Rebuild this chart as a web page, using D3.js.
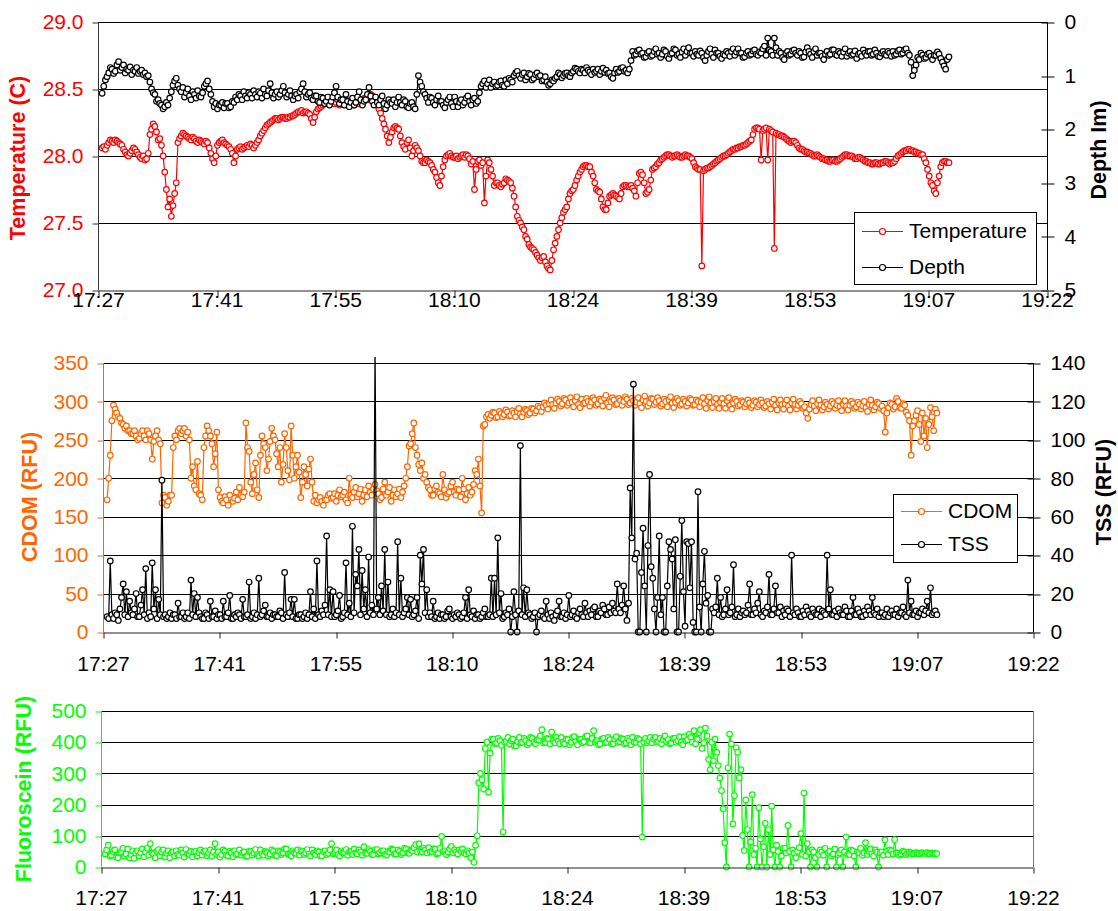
<!DOCTYPE html>
<html>
<head>
<meta charset="utf-8">
<script src="https://cdn.jsdelivr.net/npm/d3@7"></script>
<style>
  body { margin: 0; background: #fff; }
  svg { display: block; font-family: "Liberation Sans", Arial, sans-serif; }
</style>
</head>
<body>
<svg id="chart" width="1118" height="911"></svg>
<script>
// ---- logging window: minutes after 17:27 ----
const sampleStart = 0.5;
const sampleEnd = 103.3;

// ---- axis ticks ----
const tickMinutes = [0, 14.4, 28.8, 43.2, 57.6, 72, 86.4, 100.8, 115.2];
const timeLabels = ["17:27", "17:41", "17:55", "18:10", "18:24", "18:39", "18:53", "19:07", "19:22"];
const tempTicks = [27.0, 27.5, 28.0, 28.5, 29.0];
const depthTicks = [0, 1, 2, 3, 4, 5];
const cdomTicks = [0, 50, 100, 150, 200, 250, 300, 350];
const tssTicks = [0, 20, 40, 60, 80, 100, 120, 140];
const fluorTicks = [0, 100, 200, 300, 400, 500];

// ---- series (evenly spaced samples over the logging window) ----
const temperature = [
  28.06, 28.07, 28.05, 28.08, 28.10, 28.12, 28.11, 28.10, 28.12, 28.11, 28.10, 28.09, 28.08, 28.05, 28.03, 28.01, 28.00, 28.02, 28.04, 28.06,
  28.05, 28.03, 28.01, 27.99, 27.98, 28.00, 27.97, 27.98, 28.02, 28.16, 28.20, 28.24, 28.22, 28.18, 28.12, 28.13, 28.08, 28.00, 27.88, 27.75,
  27.62, 27.68, 27.55, 27.63, 27.72, 27.80, 28.10, 28.13, 28.15, 28.17, 28.16, 28.15, 28.14, 28.13, 28.12, 28.14, 28.13, 28.11, 28.10, 28.12,
  28.11, 28.10, 28.09, 28.11, 28.10, 28.06, 28.02, 27.98, 27.95, 28.00, 28.08, 28.10, 28.11, 28.12, 28.10, 28.09, 28.08, 28.07, 28.05, 28.02,
  27.95, 28.00, 28.05, 28.06, 28.07, 28.05, 28.06, 28.07, 28.08, 28.07, 28.09, 28.08, 28.06, 28.08, 28.10, 28.12, 28.15, 28.17, 28.19, 28.21,
  28.23, 28.24, 28.25, 28.26, 28.27, 28.28, 28.28, 28.27, 28.28, 28.29, 28.29, 28.28, 28.28, 28.29, 28.29, 28.30, 28.30, 28.31, 28.32, 28.33,
  28.33, 28.34, 28.32, 28.33, 28.33, 28.32, 28.31, 28.28, 28.25, 28.29, 28.33, 28.35, 28.36, 28.37, 28.38, 28.39, 28.40, 28.41, 28.39, 28.40,
  28.41, 28.39, 28.40, 28.42, 28.38, 28.39, 28.40, 28.41, 28.42, 28.40, 28.39, 28.41, 28.40, 28.38, 28.41, 28.42, 28.39, 28.40, 28.42, 28.43,
  28.43, 28.42, 28.44, 28.46, 28.45, 28.44, 28.42, 28.38, 28.35, 28.32, 28.28, 28.24, 28.20, 28.15, 28.10, 28.14, 28.18, 28.21, 28.22, 28.21,
  28.20, 28.15, 28.10, 28.07, 28.05, 28.10, 28.12, 28.06, 28.00, 28.04, 28.08, 28.06, 28.04, 28.00, 27.96, 27.95, 27.95, 27.97, 27.96, 27.95,
  27.93, 27.90, 27.88, 27.84, 27.80, 27.78, 27.85, 27.92, 27.97, 28.00, 28.01, 28.02, 28.00, 27.99, 27.99, 28.00, 27.98, 27.99, 28.00, 28.01,
  27.99, 28.01, 28.00, 27.98, 27.94, 27.96, 27.75, 27.90, 27.96, 27.97, 27.93, 27.95, 27.65, 27.85, 27.97, 27.95, 27.90, 27.85, 27.78, 27.80,
  27.80, 27.78, 27.77, 27.79, 27.80, 27.83, 27.82, 27.81, 27.80, 27.76, 27.70, 27.62, 27.55, 27.52, 27.50, 27.47, 27.45, 27.40, 27.38, 27.34,
  27.32, 27.31, 27.30, 27.28, 27.26, 27.24, 27.22, 27.24, 27.25, 27.21, 27.18, 27.16, 27.15, 27.22, 27.30, 27.35, 27.40, 27.45, 27.50, 27.54,
  27.58, 27.60, 27.62, 27.68, 27.72, 27.74, 27.75, 27.78, 27.82, 27.85, 27.88, 27.90, 27.92, 27.93, 27.93, 27.92, 27.92, 27.88, 27.85, 27.80,
  27.75, 27.74, 27.73, 27.68, 27.62, 27.60, 27.60, 27.65, 27.70, 27.71, 27.72, 27.71, 27.70, 27.69, 27.68, 27.72, 27.77, 27.78, 27.78, 27.77,
  27.77, 27.78, 27.76, 27.74, 27.70, 27.80, 27.87, 27.88, 27.86, 27.80, 27.72, 27.73, 27.75, 27.82, 27.90, 27.91, 27.92, 27.94, 27.95, 27.97,
  27.98, 27.99, 28.00, 28.01, 28.01, 28.00, 27.99, 28.00, 28.00, 28.01, 28.00, 27.99, 27.99, 28.00, 28.01, 28.00, 28.00, 27.99, 27.98, 27.95,
  27.92, 27.91, 27.90, 27.90, 27.18, 27.89, 27.90, 27.91, 27.91, 27.92, 27.93, 27.94, 27.95, 27.96, 27.97, 27.98, 27.99, 28.00, 28.00, 28.01,
  28.02, 28.03, 28.04, 28.05, 28.05, 28.06, 28.06, 28.07, 28.07, 28.08, 28.08, 28.09, 28.10, 28.11, 28.12, 28.16, 28.20, 28.21, 28.21, 28.20,
  27.97, 28.19, 28.20, 28.21, 27.97, 28.20, 28.19, 28.18, 27.31, 28.17, 28.16, 28.16, 28.15, 28.15, 28.14, 28.13, 28.12, 28.11, 28.10, 28.11,
  28.11, 28.10, 28.08, 28.06, 28.05, 28.05, 28.04, 28.03, 28.03, 28.02, 28.02, 28.01, 28.00, 28.00, 28.01, 28.00, 27.99, 27.98, 27.98, 27.97,
  27.97, 27.96, 27.96, 27.97, 27.97, 27.96, 27.96, 27.97, 27.98, 27.99, 28.00, 28.01, 28.01, 28.00, 28.00, 28.00, 27.99, 27.98, 27.98, 27.99,
  27.99, 27.98, 27.97, 27.96, 27.96, 27.95, 27.95, 27.94, 27.94, 27.95, 27.95, 27.94, 27.94, 27.95, 27.95, 27.96, 27.96, 27.95, 27.94, 27.95,
  27.95, 27.96, 27.98, 28.00, 28.01, 28.02, 28.03, 28.04, 28.04, 28.05, 28.05, 28.04, 28.04, 28.03, 28.03, 28.02, 28.02, 28.01, 28.01, 27.98,
  27.95, 27.90, 27.85, 27.80, 27.78, 27.74, 27.72, 27.80, 27.85, 27.92, 27.95, 27.96, 27.96, 27.95, 27.95
];

const depth = [
  1.33, 1.20, 1.08, 1.02, 0.95, 0.85, 0.88, 0.96, 0.92, 0.80, 0.74, 0.90, 0.85, 0.80, 0.95, 0.88, 0.90, 0.84, 0.98, 0.90,
  0.92, 0.85, 0.96, 0.92, 0.90, 0.98, 0.95, 1.02, 1.00, 1.12, 1.25, 1.32, 1.35, 1.48, 1.45, 1.52, 1.55, 1.62, 1.58, 1.50,
  1.55, 1.42, 1.30, 1.18, 1.10, 1.05, 1.18, 1.25, 1.30, 1.22, 1.40, 1.32, 1.25, 1.38, 1.45, 1.30, 1.35, 1.42, 1.28, 1.38,
  1.40, 1.32, 1.20, 1.15, 1.10, 1.25, 1.35, 1.48, 1.58, 1.52, 1.62, 1.55, 1.55, 1.50, 1.60, 1.52, 1.52, 1.60, 1.58, 1.48,
  1.50, 1.40, 1.45, 1.35, 1.38, 1.45, 1.30, 1.38, 1.42, 1.32, 1.35, 1.42, 1.28, 1.35, 1.40, 1.30, 1.33, 1.42, 1.25, 1.35,
  1.38, 1.28, 1.15, 1.32, 1.42, 1.35, 1.30, 1.40, 1.35, 1.28, 1.20, 1.32, 1.40, 1.35, 1.28, 1.38, 1.45, 1.38, 1.35, 1.42,
  1.30, 1.25, 1.15, 1.30, 1.40, 1.35, 1.32, 1.42, 1.45, 1.38, 1.38, 1.48, 1.50, 1.40, 1.42, 1.52, 1.48, 1.40, 1.55, 1.48,
  1.40, 1.32, 1.20, 1.40, 1.52, 1.45, 1.45, 1.55, 1.35, 1.48, 1.58, 1.50, 1.42, 1.55, 1.50, 1.40, 1.30, 1.45, 1.55, 1.48,
  1.45, 1.35, 1.22, 1.38, 1.48, 1.55, 1.40, 1.50, 1.55, 1.45, 1.38, 1.52, 1.62, 1.55, 1.45, 1.50, 1.52, 1.45, 1.58, 1.50,
  1.40, 1.50, 1.55, 1.45, 1.48, 1.58, 1.60, 1.52, 1.50, 1.58, 1.62, 1.35, 1.00, 1.12, 1.20, 1.30, 1.35, 1.42, 1.50, 1.40,
  1.42, 1.50, 1.55, 1.45, 1.38, 1.48, 1.48, 1.55, 1.60, 1.50, 1.45, 1.40, 1.52, 1.58, 1.40, 1.48, 1.58, 1.50, 1.45, 1.55,
  1.50, 1.42, 1.38, 1.48, 1.55, 1.45, 1.42, 1.52, 1.48, 1.32, 1.20, 1.15, 1.10, 1.22, 1.15, 1.08, 1.22, 1.15, 1.12, 1.20,
  1.18, 1.12, 1.10, 1.18, 1.20, 1.08, 1.15, 1.05, 1.08, 1.12, 1.00, 0.95, 0.92, 1.00, 1.05, 0.98, 0.95, 1.08, 1.02, 0.96,
  0.98, 1.08, 1.05, 0.98, 0.95, 1.02, 1.00, 1.10, 1.08, 1.02, 1.12, 1.18, 1.15, 1.08, 1.10, 1.05, 1.02, 0.95, 0.98, 1.04,
  1.00, 0.96, 0.95, 1.00, 1.02, 0.95, 0.92, 0.86, 0.88, 0.92, 0.95, 0.88, 0.90, 0.95, 0.85, 0.90, 0.93, 0.98, 0.88, 0.94,
  0.92, 0.88, 0.98, 0.92, 0.86, 0.94, 0.90, 0.96, 0.95, 1.02, 1.05, 0.95, 0.88, 0.94, 0.92, 0.86, 0.85, 0.92, 0.90, 0.95,
  0.88, 0.72, 0.55, 0.62, 0.60, 0.54, 0.52, 0.60, 0.58, 0.66, 0.65, 0.58, 0.55, 0.64, 0.62, 0.55, 0.50, 0.60, 0.58, 0.66,
  0.60, 0.52, 0.55, 0.64, 0.68, 0.60, 0.58, 0.50, 0.52, 0.62, 0.60, 0.66, 0.56, 0.50, 0.62, 0.55, 0.48, 0.58, 0.58, 0.64,
  0.55, 0.60, 0.62, 0.54, 0.58, 0.66, 0.72, 0.62, 0.55, 0.50, 0.60, 0.66, 0.52, 0.58, 0.58, 0.64, 0.68, 0.60, 0.62, 0.55,
  0.58, 0.64, 0.55, 0.50, 0.62, 0.56, 0.50, 0.58, 0.58, 0.66, 0.65, 0.58, 0.55, 0.62, 0.60, 0.54, 0.52, 0.60, 0.62, 0.56,
  0.58, 0.50, 0.45, 0.62, 0.30, 0.52, 0.55, 0.62, 0.30, 0.48, 0.62, 0.55, 0.58, 0.66, 0.70, 0.58, 0.55, 0.62, 0.60, 0.54,
  0.52, 0.58, 0.62, 0.55, 0.58, 0.66, 0.65, 0.56, 0.48, 0.55, 0.60, 0.66, 0.55, 0.50, 0.62, 0.58, 0.58, 0.64, 0.70, 0.60,
  0.55, 0.62, 0.60, 0.52, 0.52, 0.60, 0.62, 0.55, 0.58, 0.64, 0.56, 0.50, 0.64, 0.58, 0.55, 0.62, 0.60, 0.54, 0.68, 0.60,
  0.58, 0.64, 0.52, 0.58, 0.62, 0.55, 0.55, 0.62, 0.60, 0.52, 0.58, 0.64, 0.65, 0.58, 0.55, 0.60, 0.62, 0.55, 0.58, 0.64,
  0.55, 0.62, 0.60, 0.54, 0.52, 0.60, 0.58, 0.52, 0.50, 0.58, 0.62, 0.75, 1.00, 0.90, 0.80, 0.66, 0.70, 0.58, 0.62, 0.68,
  0.66, 0.60, 0.58, 0.64, 0.70, 0.62, 0.62, 0.56, 0.60, 0.68, 0.75, 0.82, 0.88, 0.70, 0.65
];

const cdom = [
  172, 200, 230, 275, 295, 290, 285, 280, 278, 272, 270, 265, 268, 262, 262, 258, 258, 262, 255, 250,
  252, 258, 262, 255, 250, 262, 258, 250, 225, 248, 255, 262, 250, 245, 168, 178, 175, 165, 170, 178,
  178, 240, 255, 250, 262, 265, 258, 262, 265, 255, 260, 250, 200, 215, 190, 185, 222, 180, 178, 172,
  240, 255, 268, 262, 255, 245, 215, 232, 260, 185, 175, 170, 168, 176, 172, 165, 178, 172, 170, 174,
  182, 172, 188, 178, 176, 182, 272, 240, 235, 195, 180, 205, 220, 185, 175, 230, 255, 245, 240, 210,
  225, 248, 265, 255, 250, 232, 215, 240, 195, 218, 258, 240, 210, 198, 268, 230, 200, 215, 230, 208,
  175, 195, 215, 205, 190, 212, 225, 195, 170, 178, 168, 172, 175, 170, 165, 172, 172, 178, 180, 174,
  175, 180, 170, 178, 185, 176, 178, 182, 172, 168, 200, 178, 175, 182, 188, 176, 180, 186, 170, 178,
  185, 176, 190, 182, 178, 186, 192, 184, 180, 172, 175, 186, 195, 178, 182, 188, 170, 178, 185, 176,
  180, 186, 175, 182, 190, 200, 215, 242, 245, 258, 272, 240, 230, 218, 210, 220, 200, 205, 195, 188,
  185, 178, 178, 186, 190, 182, 180, 176, 205, 185, 175, 180, 182, 190, 195, 182, 178, 186, 185, 176,
  200, 186, 172, 180, 188, 178, 182, 192, 210, 205, 225, 190, 155, 268, 270, 280, 283, 278, 282, 286,
  285, 279, 280, 287, 284, 280, 283, 289, 286, 281, 282, 288, 285, 280, 287, 291, 284, 280, 286, 290,
  288, 283, 285, 291, 290, 285, 288, 294, 292, 287, 293, 298, 295, 290, 297, 302, 296, 291, 298, 303,
  300, 294, 297, 304, 302, 295, 298, 305, 299, 293, 301, 306, 296, 292, 303, 297, 298, 304, 300, 294,
  299, 305, 302, 295, 297, 303, 301, 294, 304, 308, 298, 293, 300, 305, 302, 296, 297, 304, 301, 295,
  300, 306, 303, 296, 298, 304, 301, 295, 299, 305, 297, 292, 302, 307, 300, 294, 298, 304, 303, 296,
  299, 305, 301, 294, 297, 303, 300, 293, 302, 306, 298, 292, 299, 304, 301, 295, 297, 303, 300, 294,
  298, 304, 302, 295, 296, 302, 300, 293, 299, 305, 297, 291, 301, 306, 298, 292, 300, 304, 296, 291,
  299, 304, 297, 291, 301, 305, 295, 290, 298, 303, 300, 294, 296, 301, 299, 293, 297, 302, 298, 292,
  295, 301, 299, 293, 296, 302, 298, 292, 294, 300, 297, 290, 299, 303, 295, 289, 298, 302, 296, 290,
  297, 302, 294, 289, 298, 303, 296, 290, 295, 300, 297, 291, 293, 285, 278, 290, 296, 301, 294, 288,
  297, 302, 295, 289, 293, 299, 296, 290, 294, 300, 297, 291, 295, 301, 293, 288, 296, 301, 294, 289,
  295, 300, 297, 291, 293, 299, 296, 290, 294, 300, 292, 287, 296, 302, 295, 289, 293, 299, 297, 291,
  294, 288, 260, 285, 292, 298, 296, 290, 293, 304, 300, 292, 291, 297, 295, 286, 282, 275, 230, 268,
  275, 282, 288, 270, 248, 285, 255, 278, 240, 270, 292, 280, 262, 290, 285
];

const tss = [
  8, 7, 37, 9, 7, 10, 9, 6, 12, 18, 25, 9, 21, 8, 16, 10, 9, 12, 20, 8,
  8, 14, 22, 9, 33, 7, 10, 8, 36, 12, 22, 7, 17, 9, 79, 8, 9, 7, 8, 10,
  7, 9, 9, 7, 15, 8, 8, 10, 7, 8, 10, 7, 27, 9, 20, 8, 18, 10, 8, 7,
  7, 10, 9, 7, 16, 8, 8, 11, 7, 9, 9, 7, 16, 8, 8, 10, 19, 7, 7, 9,
  8, 10, 9, 7, 17, 8, 8, 9, 26, 7, 8, 10, 7, 9, 28, 8, 9, 11, 14, 8,
  8, 10, 7, 9, 9, 8, 8, 11, 10, 7, 31, 9, 8, 10, 17, 8, 17, 7, 7, 9,
  9, 7, 8, 10, 7, 9, 21, 8, 12, 7, 37, 9, 8, 11, 9, 14, 50, 9, 22, 8,
  21, 8, 9, 11, 19, 7, 8, 10, 36, 9, 15, 8, 55, 10, 30, 24, 43, 9, 32, 12,
  22, 8, 39, 10, 14, 9, 150, 12, 18, 9, 24, 11, 43, 9, 26, 8, 9, 12, 8, 10,
  47, 9, 28, 8, 10, 12, 18, 9, 17, 8, 9, 11, 18, 7, 40, 25, 43, 10, 22, 8,
  10, 8, 16, 7, 8, 10, 7, 9, 9, 7, 8, 11, 12, 8, 7, 9, 8, 10, 9, 7,
  8, 10, 18, 7, 22, 9, 8, 11, 7, 9, 9, 7, 8, 10, 12, 8, 8, 9, 28, 8,
  28, 9, 49, 10, 20, 7, 8, 10, 9, 12, 0, 8, 21, 9, 0, 11, 97, 9, 23, 8,
  22, 10, 9, 7, 8, 10, 0, 8, 9, 11, 8, 7, 16, 9, 7, 10, 8, 6, 9, 11,
  16, 8, 8, 10, 7, 9, 19, 8, 9, 11, 8, 7, 10, 12, 9, 8, 15, 10, 8, 11,
  9, 12, 13, 8, 8, 11, 10, 14, 12, 9, 9, 13, 10, 15, 11, 10, 25, 12, 10, 14,
  24, 12, 6, 15, 75, 49, 129, 38, 41, 0, 0, 31, 54, 24, 0, 45, 82, 34, 28, 12,
  0, 18, 50, 9, 18, 0, 0, 24, 47, 43, 38, 12, 48, 0, 0, 29, 58, 21, 3, 47,
  46, 23, 47, 5, 0, 0, 73, 13, 0, 25, 42, 15, 19, 0, 0, 12, 10, 13, 28, 9,
  18, 8, 9, 12, 22, 9, 10, 13, 35, 8, 9, 12, 8, 10, 11, 9, 10, 14, 25, 9,
  9, 12, 10, 15, 21, 9, 8, 11, 10, 13, 30, 9, 9, 12, 24, 10, 10, 13, 8, 11,
  9, 12, 11, 8, 40, 10, 9, 12, 10, 8, 8, 11, 9, 13, 11, 9, 8, 12, 10, 9,
  9, 12, 8, 11, 10, 9, 40, 12, 22, 9, 9, 11, 8, 12, 10, 9, 9, 13, 11, 8,
  8, 11, 18, 9, 9, 12, 10, 8, 8, 11, 9, 13, 11, 9, 18, 10, 9, 12, 8, 10,
  10, 8, 9, 12, 8, 10, 11, 9, 9, 12, 8, 10, 10, 13, 9, 8, 27, 10, 16, 9,
  9, 11, 8, 10, 10, 12, 9, 11, 16, 10, 23, 9, 10, 11, 9
];

const fluorescein = [
  42, 55, 70, 35, 38, 50, 55, 32, 30, 45, 48, 60, 35, 42, 58, 30, 40, 52, 28, 45,
  52, 35, 45, 58, 33, 48, 60, 38, 75, 45, 42, 30, 50, 56, 36, 48, 55, 32, 44, 52,
  30, 45, 48, 35, 52, 40, 38, 55, 45, 32, 56, 42, 40, 50, 33, 48, 50, 36, 46, 55,
  38, 50, 52, 36, 44, 55, 35, 48, 75, 40, 48, 32, 40, 55, 50, 38, 36, 50, 45, 33,
  52, 40, 42, 55, 38, 46, 48, 34, 35, 50, 50, 38, 44, 56, 40, 35, 55, 42, 38, 50,
  46, 35, 42, 55, 50, 38, 36, 52, 48, 40, 45, 58, 58, 42, 40, 36, 52, 45, 44, 55,
  38, 52, 50, 40, 45, 56, 42, 35, 55, 45, 40, 52, 48, 36, 36, 50, 52, 40, 44, 55,
  75, 42, 46, 55, 40, 35, 52, 45, 45, 56, 38, 48, 50, 40, 58, 45, 42, 55, 48, 38,
  65, 45, 44, 56, 50, 40, 40, 55, 56, 42, 46, 52, 52, 40, 38, 50, 48, 58, 55, 42,
  42, 55, 50, 40, 46, 60, 58, 45, 44, 55, 52, 62, 72, 48, 75, 50, 48, 60, 55, 45,
  62, 48, 50, 58, 58, 42, 45, 60, 98, 50, 52, 40, 48, 58, 66, 45, 55, 48, 42, 55,
  50, 58, 46, 42, 52, 45, 30, 48, 15, 70, 100, 270, 300, 280, 250, 380, 400, 240, 365, 410,
  410, 395, 398, 412, 405, 390, 112, 400, 402, 415, 395, 405, 410, 388, 388, 402, 415, 398, 400, 412,
  405, 392, 398, 415, 412, 400, 395, 408, 408, 420, 440, 398, 400, 412, 410, 395, 432, 405, 398, 415,
  405, 395, 415, 400, 395, 410, 408, 392, 400, 415, 418, 402, 392, 410, 410, 398, 402, 418, 420, 400,
  398, 412, 437, 400, 405, 392, 395, 410, 412, 398, 400, 415, 408, 395, 395, 410, 418, 400, 402, 412,
  410, 395, 398, 412, 405, 392, 415, 400, 400, 412, 408, 395, 96, 400, 412, 398, 404, 415, 398, 410,
  415, 400, 402, 412, 395, 408, 420, 402, 408, 395, 398, 412, 412, 400, 405, 418, 400, 392, 418, 405,
  408, 425, 415, 400, 437, 395, 410, 430, 440, 380, 398, 445, 420, 345, 312, 400, 341, 410, 368, 325,
  285, 245, 187, 78, 0, 318, 426, 394, 138, 229, 382, 368, 286, 312, 101, 53, 215, 120, 0, 80,
  232, 40, 60, 0, 190, 90, 0, 65, 140, 0, 120, 40, 195, 55, 0, 70, 50, 0, 35, 60,
  60, 45, 133, 50, 0, 55, 45, 30, 50, 62, 107, 40, 237, 35, 75, 48, 0, 55, 48, 30,
  0, 40, 55, 48, 38, 60, 0, 45, 50, 35, 42, 58, 0, 40, 45, 55, 0, 48, 96, 40,
  40, 55, 52, 35, 0, 48, 45, 60, 38, 45, 78, 40, 50, 58, 42, 35, 55, 48, 0, 45,
  48, 38, 87, 50, 40, 55, 52, 42, 88, 45, 45, 38, 42, 50, 48, 40, 44, 48, 46, 42,
  42, 46, 45, 42, 44, 46, 43, 41, 46, 44, 42, 45, 44, 42, 43
];

// sample times for a series of n evenly spaced readings
const timesFor = n => d3.range(n).map(k => sampleStart + k * (sampleEnd - sampleStart) / (n - 1));

// ---- drawing ----
const RED = "#FF0000", ORANGE = "#FF6600", GREEN = "#00FF00", BLACK = "#000000";
const FONT = 21;
const svg = d3.select("#chart");
const crisp = v => Math.round(v) + 0.5;

function hLines(g, ys, x1, x2, color) {
  g.selectAll(null).data(ys).join("line")
    .attr("x1", x1).attr("x2", x2)
    .attr("y1", d => crisp(d)).attr("y2", d => crisp(d))
    .attr("stroke", color).attr("stroke-width", 1);
}

function vLine(g, x, y1, y2, color) {
  g.append("line").attr("x1", crisp(x)).attr("x2", crisp(x))
    .attr("y1", y1).attr("y2", y2).attr("stroke", color).attr("stroke-width", 1);
}

function series(g, values, x, y, color, r) {
  const t = timesFor(values.length);
  const line = d3.line().x((v, i) => x(t[i])).y(v => y(v));
  const s = g.append("g");
  s.append("path").datum(values).attr("d", line)
    .attr("fill", "none").attr("stroke", color).attr("stroke-width", 1.2);
  s.selectAll("circle").data(values).join("circle")
    .attr("cx", (v, i) => x(t[i])).attr("cy", v => y(v)).attr("r", r)
    .attr("fill", "#fff").attr("stroke", color).attr("stroke-width", 1.2);
}

function leftAxis(g, y, ticks, fmt, color, axisColor, xPos, top, bottom) {
  const a = g.append("g").attr("transform", `translate(${crisp(xPos)},0)`)
    .call(d3.axisLeft(y).tickValues(ticks).tickFormat(fmt).tickSize(6).tickSizeOuter(0).tickPadding(9));
  a.select(".domain").remove();
  a.selectAll(".tick line").attr("stroke", axisColor).attr("transform", d => `translate(0,${crisp(y(d)) - y(d)})`);
  a.selectAll("text").attr("fill", color).attr("font-size", FONT);
  a.attr("font-family", null);
  vLine(g, xPos, top, bottom, axisColor);
}

function rightAxis(g, y, ticks, xPos, top, bottom) {
  const a = g.append("g").attr("transform", `translate(${crisp(xPos)},0)`)
    .call(d3.axisRight(y).tickValues(ticks).tickFormat(d3.format("d")).tickSize(7).tickSizeOuter(0).tickPadding(10));
  a.select(".domain").remove();
  a.selectAll(".tick line").attr("x1", -6).attr("stroke", BLACK)
    .attr("transform", d => `translate(0,${crisp(y(d)) - y(d)})`);
  a.selectAll("text").attr("fill", BLACK).attr("font-size", FONT);
  a.attr("font-family", null);
  vLine(g, xPos, top, bottom, BLACK);
}

function bottomAxis(g, x, yPos, labelDy) {
  const a = g.append("g").attr("transform", `translate(0,${crisp(yPos)})`)
    .call(d3.axisBottom(x).tickValues(tickMinutes).tickFormat((d, i) => timeLabels[i]).tickSize(6).tickSizeOuter(0));
  a.select(".domain").attr("stroke", "#222");
  a.selectAll(".tick line").attr("stroke", "#222")
    .attr("transform", d => `translate(${crisp(x(d)) - x(d)},0)`);
  a.selectAll("text").attr("fill", BLACK).attr("font-size", FONT)
    .attr("y", labelDy).attr("dy", "0.35em");
  a.attr("font-family", null);
}

function title(g, text, cx, cy, color) {
  g.append("text").attr("transform", `translate(${cx},${cy}) rotate(-90)`)
    .attr("text-anchor", "middle").attr("dominant-baseline", "central")
    .attr("font-weight", "bold").attr("font-size", 21.5).attr("fill", color).text(text);
}

function legend(g, box, items) {
  g.append("rect").attr("x", box.x + 0.5).attr("y", box.y + 0.5)
    .attr("width", box.w).attr("height", box.h)
    .attr("fill", "#fff").attr("stroke", BLACK).attr("stroke-width", 1);
  items.forEach(it => {
    g.append("line").attr("x1", box.x + 8).attr("x2", box.x + 49)
      .attr("y1", crisp(it.y)).attr("y2", crisp(it.y))
      .attr("stroke", it.color).attr("stroke-width", 1.2);
    g.append("circle").attr("cx", box.x + 28.5).attr("cy", crisp(it.y)).attr("r", 3)
      .attr("fill", "#fff").attr("stroke", it.color).attr("stroke-width", 1.2);
    g.append("text").attr("x", box.x + 55).attr("y", it.y).attr("dy", "0.35em")
      .attr("font-size", FONT).attr("fill", BLACK).text(it.label);
  });
}

function clip(id, x, y, w, h) {
  svg.append("clipPath").attr("id", id).append("rect")
    .attr("x", x).attr("y", y).attr("width", w).attr("height", h);
}

// Panel 1: temperature and depth
{
  const L = 98, R = 1047, T = 22, B = 290;
  const x = d3.scaleLinear().domain([0, 115.2]).range([L, R]);
  const yT = d3.scaleLinear().domain([27, 29]).range([B, T]);
  const yD = d3.scaleLinear().domain([0, 5]).range([T, B]);
  const g = svg.append("g");
  hLines(g, tempTicks.slice(1).map(yT), L, R, BLACK);
  clip("clip1", L - 4, T - 4, R - L + 8, B - T + 8);
  const data = g.append("g").attr("clip-path", "url(#clip1)");
  series(data, temperature, x, yT, RED, 2.8);
  series(data, depth, x, yD, BLACK, 2.8);
  leftAxis(g, yT, tempTicks, d3.format(".1f"), RED, "#333", L, T, B);
  rightAxis(g, yD, depthTicks, R, T, B);
  bottomAxis(g, x, B, 9);
  title(g, "Temperature (C)", 18, 158, RED);
  title(g, "Depth Im)", 1099, 150, BLACK);
  legend(g, { x: 854, y: 212, w: 182, h: 72 }, [
    { label: "Temperature", color: RED, y: 231 },
    { label: "Depth", color: BLACK, y: 267 }
  ]);
}

// Panel 2: CDOM and TSS
{
  const L = 103, R = 1033, T = 363, B = 632;
  const x = d3.scaleLinear().domain([0, 115.2]).range([L, R]);
  const yC = d3.scaleLinear().domain([0, 350]).range([B, T]);
  const yS = d3.scaleLinear().domain([0, 140]).range([B, T]);
  const g = svg.append("g");
  hLines(g, cdomTicks.slice(1).map(yC), L, R, BLACK);
  clip("clip2", L - 4, T - 6, R - L + 8, B - T + 10);
  const data = g.append("g").attr("clip-path", "url(#clip2)");
  series(data, cdom, x, yC, ORANGE, 2.8);
  series(data, tss, x, yS, BLACK, 2.8);
  leftAxis(g, yC, cdomTicks, d3.format("d"), ORANGE, ORANGE, L, T, B);
  rightAxis(g, yS, tssTicks, R, T, B);
  bottomAxis(g, x, B, 31);
  title(g, "CDOM (RFU)", 30, 497, ORANGE);
  title(g, "TSS (RFU)", 1104, 492, BLACK);
  legend(g, { x: 893, y: 494, w: 124, h: 68 }, [
    { label: "CDOM", color: ORANGE, y: 511 },
    { label: "TSS", color: BLACK, y: 544 }
  ]);
}

// Panel 3: fluorescein
{
  const L = 101, R = 1033, T = 711, B = 867;
  const x = d3.scaleLinear().domain([0, 115.2]).range([L, R]);
  const yF = d3.scaleLinear().domain([0, 500]).range([B, T]);
  const g = svg.append("g");
  hLines(g, fluorTicks.slice(1).map(yF), L, R, BLACK);
  vLine(g, R, T, B, "#777");
  clip("clip3", L - 4, T - 4, R - L + 8, B - T + 8);
  const data = g.append("g").attr("clip-path", "url(#clip3)");
  series(data, fluorescein, x, yF, GREEN, 2.8);
  leftAxis(g, yF, fluorTicks, d3.format("d"), GREEN, GREEN, L, T, B);
  bottomAxis(g, x, B, 30);
  title(g, "Fluoroscein (RFU)", 24, 789, GREEN);
}
</script>
</body>
</html>
